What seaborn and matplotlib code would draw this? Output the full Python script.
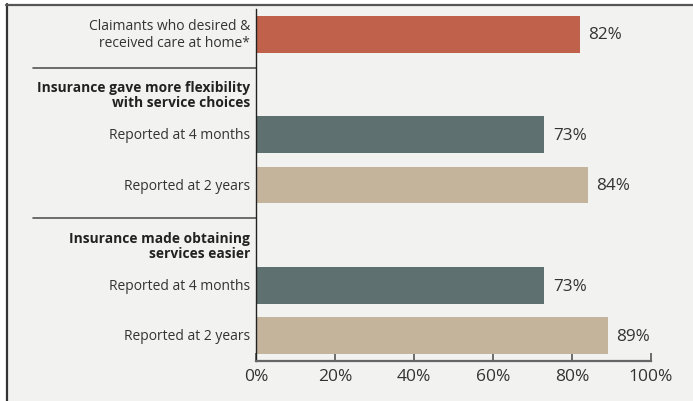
"""Horizontal bar chart: claimant-reported benefits of long-term care insurance."""

import matplotlib
matplotlib.use("Agg")
import matplotlib.pyplot as plt
import matplotlib.transforms as mtransforms
import numpy as np
import pandas as pd
import seaborn as sns

# Row labels (top to bottom); headings have no bar
ROW_LABELS = [
    "Claimants who desired &\nreceived care at home*",
    "Insurance gave more flexibility\nwith service choices",
    "Reported at 4 months",
    "Reported at 2 years",
    "Insurance made obtaining\nservices easier",
    "Reported at 4 months",
    "Reported at 2 years",
]
ROW_KIND = ["home", "heading", "4m", "2y", "heading", "4m", "2y"]
VALUES = [82, np.nan, 73, 84, np.nan, 73, 89]

X_TICKS = [0, 20, 40, 60, 80, 100]

KIND_COLORS = {
    "home": "#c0614b",
    "heading": "#f2f2f0",
    "4m": "#5e7170",
    "2y": "#c4b49b",
}

BG = "#f2f2f0"
TEXT = "#333333"

sns.set_theme(style="white")
plt.rcParams["font.family"] = ["Open Sans", "DejaVu Sans"]

df = pd.DataFrame({
    "row": [f"r{i}" for i in range(len(ROW_LABELS))],
    "value": VALUES,
    "kind": ROW_KIND,
})

fig = plt.figure(figsize=(6.93, 4.02), dpi=100)
fig.patch.set_facecolor("white")

# Panel background with left/top rule
W, H = 693, 402
fig.patches.append(plt.Rectangle((6 / W, 0), 1 - 6 / W, 1 - 5 / H,
                                 transform=fig.transFigure, facecolor=BG,
                                 edgecolor="none", zorder=-10))
fig.add_artist(plt.Line2D([6.5 / W, 6.5 / W], [0, 1 - 5 / H],
                          transform=fig.transFigure, color="#333333", lw=1.6))
fig.add_artist(plt.Line2D([6 / W, 1], [1 - 5.5 / H, 1 - 5.5 / H],
                          transform=fig.transFigure, color="#555555", lw=1.6))

ax = fig.add_axes([256 / W, 1 - 362 / H, (651 - 256) / W, (362 - 10) / H])
ax.set_facecolor(BG)

sns.barplot(data=df, x="value", y="row", hue="kind", palette=KIND_COLORS,
            orient="h", width=0.735, dodge=False, legend=False, ax=ax,
            saturation=1, linewidth=0)

ax.set_xlim(0, 100)
ax.set_ylim(len(ROW_LABELS) - 0.5, -0.5)
ax.set_xticks(X_TICKS)
ax.set_xticklabels([f"{t}%" for t in X_TICKS], fontsize=12.5, color=TEXT)
ax.tick_params(axis="x", direction="in", length=6, width=1.2, color="#555555",
               pad=5, bottom=True)
ax.set_xlabel("")
ax.set_ylabel("")

# Row labels: plain for bar rows, bold for headings
ax.set_yticks(range(len(ROW_LABELS)))
ax.set_yticklabels([])
ax.tick_params(axis="y", length=0)
lbl_tr = mtransforms.blended_transform_factory(ax.transAxes, ax.transData)
lbl_off = mtransforms.offset_copy(lbl_tr, fig=fig, x=-6, y=0, units="dots")
for i, (label, kind) in enumerate(zip(ROW_LABELS, ROW_KIND)):
    if kind == "heading":
        ax.text(0, i + 0.2, label, transform=lbl_off, ha="right", va="center",
                fontsize=9.9, fontweight="bold", color="#222222",
                linespacing=1.15)
    else:
        ax.text(0, i, label, transform=lbl_off, ha="right", va="center",
                fontsize=10, color=TEXT, linespacing=1.15)

# Value labels
for i, v in enumerate(VALUES):
    if not np.isnan(v):
        ax.text(v + 2.2, i, f"{v:.0f}%", va="center", ha="left",
                fontsize=12.3, color=TEXT)

# Section separators to the left of the axis
for y in [0.68, 3.65]:
    ax.axhline(y, xmin=(33 - 256) / (651 - 256), xmax=0, color="#555555",
               lw=1.2, clip_on=False)

for side in ["top", "right"]:
    ax.spines[side].set_visible(False)
ax.spines["left"].set_color("#222222")
ax.spines["left"].set_linewidth(1.0)
ax.spines["bottom"].set_color("#666666")
ax.spines["bottom"].set_linewidth(1.6)

fig.savefig("out.png", dpi=100, facecolor=fig.get_facecolor())
plt.close(fig)
